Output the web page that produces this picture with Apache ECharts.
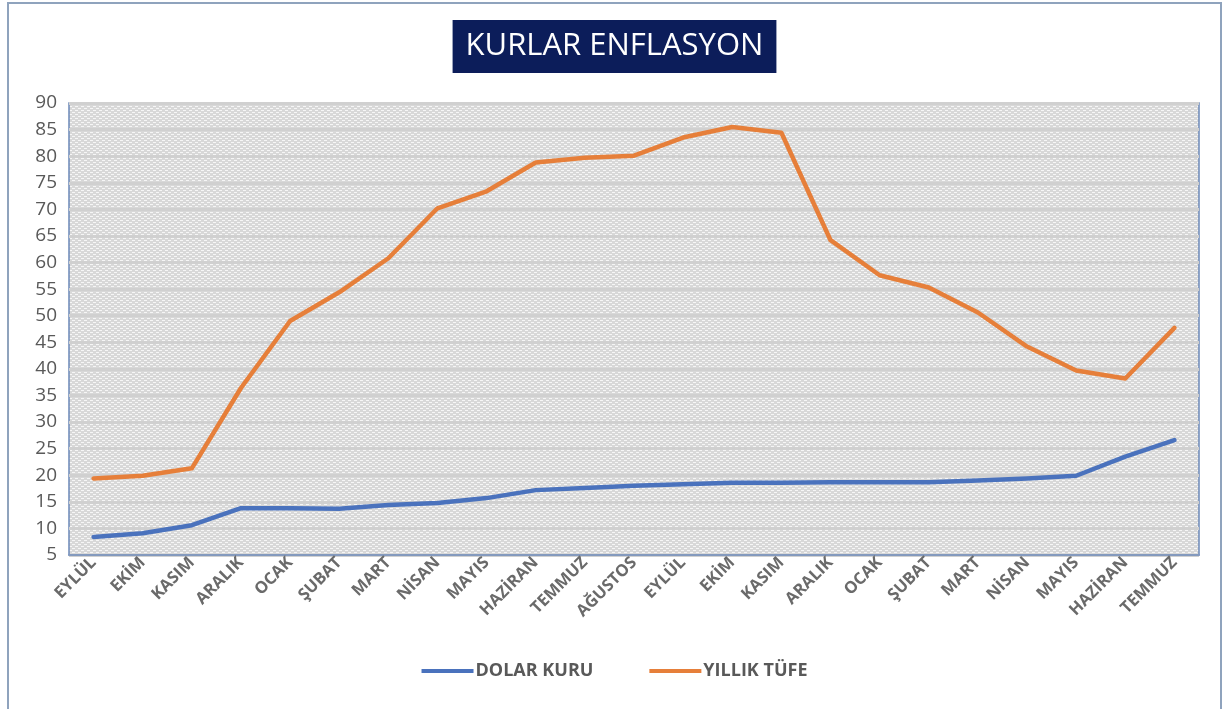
<!DOCTYPE html>
<html>
<head>
<meta charset="utf-8">
<script src="https://cdn.jsdelivr.net/npm/echarts@6/dist/echarts.min.js"></script>
<style>
  html, body { margin: 0; padding: 0; background: #fff; }
  #kurlar { width: 1229px; height: 709px; }
</style>
</head>
<body>
<div id="kurlar"></div>
<script>
// aylar (Eylül 2021 - Temmuz 2023)
var aylar = ["EYLÜL", "EKİM", "KASIM", "ARALIK", "OCAK", "ŞUBAT", "MART", "NİSAN", "MAYIS", "HAZİRAN", "TEMMUZ", "AĞUSTOS",
  "EYLÜL", "EKİM", "KASIM", "ARALIK", "OCAK", "ŞUBAT", "MART", "NİSAN", "MAYIS", "HAZİRAN", "TEMMUZ"];
var dolarKuru = [8.4, 9.1, 10.6, 13.8, 13.8, 13.7, 14.4, 14.8, 15.7, 17.2, 17.6, 18.0,
  18.3, 18.6, 18.6, 18.7, 18.7, 18.7, 19.0, 19.4, 19.9, 23.5, 26.6];
var yillikTufe = [19.4, 19.9, 21.3, 36.4, 49.0, 54.4, 60.8, 70.2, 73.4, 78.8, 79.7, 80.1,
  83.5, 85.5, 84.4, 64.2, 57.6, 55.3, 50.6, 44.2, 39.7, 38.2, 47.7];
var yEksen = { min: 5, max: 90, step: 5 };

// Excel'deki noktali dolgu desenine benzesin diye kucuk bir canvas
function noktaDesen() {
  var c = document.createElement("canvas");
  c.width = 6;
  c.height = 4;
  var ctx = c.getContext("2d");
  ctx.fillStyle = "#d8d8d8";
  ctx.fillRect(0, 0, 6, 4);
  ctx.fillStyle = "#f6f6f6";
  ctx.fillRect(0, 0, 3, 1);
  ctx.fillRect(3, 2, 3, 1);
  return c;
}

var myChart = echarts.init(document.getElementById("kurlar"));
myChart.setOption({
  backgroundColor: "#fff",
  animation: false,
  color: ["#4a72bd", "#e67f3a"],
  title: {
    text: "KURLAR ENFLASYON",
    left: "center",
    top: 20,
    backgroundColor: "#0c1d5a",
    padding: [11, 13, 11, 13],
    textStyle: {
      color: "#fff",
      fontFamily: "Open Sans, sans-serif",
      fontWeight: "normal",
      fontSize: 31
    }
  },
  graphic: [{
    type: "rect",
    shape: { x: 8, y: 3, width: 1213, height: 720 },
    style: { fill: null, stroke: "#8fa3bd", lineWidth: 2 },
    silent: true
  }],
  legend: {
    bottom: 24,
    left: "center",
    itemWidth: 52,
    itemHeight: 4,
    itemGap: 56,
    icon: "rect",
    data: ["DOLAR KURU", "YILLIK TÜFE"],
    textStyle: {
      color: "#595959",
      fontFamily: "Open Sans, sans-serif",
      fontWeight: "bold",
      fontSize: 18,
      padding: [0, 0, 0, -3]
    }
  },
  grid: {
    show: true,
    left: 69,
    right: 30,
    top: 103,
    bottom: 154,
    backgroundColor: { image: noktaDesen(), repeat: "repeat" },
    borderColor: "#6b88b8",
    borderWidth: 1.5
  },
  xAxis: {
    type: "category",
    data: aylar,
    boundaryGap: true,
    axisLine: { lineStyle: { color: "#6b88b8", width: 1.5 } },
    axisTick: { show: false },
    axisLabel: {
      rotate: 45,
      interval: 0,
      margin: 5,
      color: "#6a6a6a",
      fontWeight: "bold",
      fontFamily: "Open Sans, sans-serif",
      fontSize: 16.5
    }
  },
  yAxis: {
    type: "value",
    min: yEksen.min,
    max: yEksen.max,
    interval: yEksen.step,
    axisLine: { show: false },
    axisTick: { show: false },
    axisLabel: {
      color: "#595959",
      margin: 12,
      fontFamily: "Open Sans, sans-serif",
      fontSize: 19
    },
    splitLine: {
      show: true,
      lineStyle: { color: "#d0d0d0", width: 3 }
    }
  },
  series: [
    {
      name: "DOLAR KURU",
      type: "line",
      data: dolarKuru,
      symbol: "none",
      lineStyle: { width: 4.5, cap: "round", join: "round" }
    },
    {
      name: "YILLIK TÜFE",
      type: "line",
      data: yillikTufe,
      symbol: "none",
      lineStyle: { width: 4.5, cap: "round", join: "round" }
    }
  ]
});
</script>
</body>
</html>
